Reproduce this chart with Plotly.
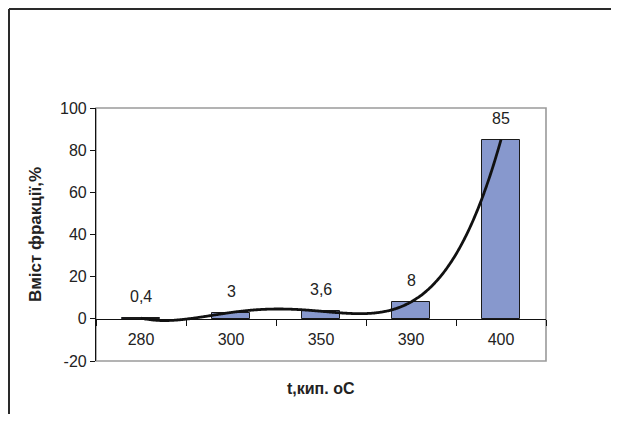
import numpy as np
import plotly.graph_objects as go

# ---- data ----
categories = ["280", "300", "350", "390", "400"]
values = [0.4, 3, 3.6, 8, 85]
value_labels = ["0,4", "3", "3,6", "8", "85"]
y_ticks = [-20, 0, 20, 40, 60, 80, 100]
y_tick_text = ["-20", "0", "20", "40", "60", "80", "100"]

x_pos = list(range(1, len(categories) + 1))

# polynomial (4th order) trendline as in the original spreadsheet chart
coef = np.polyfit(x_pos, values, 4)
xt = np.linspace(x_pos[0], x_pos[-1], 300)
yt = np.polyval(coef, xt)

FONT = "Liberation Sans, Arial, sans-serif"

fig = go.Figure()
fig.add_trace(go.Bar(
    x=x_pos, y=values, width=0.42,
    marker=dict(color="#8798CD", line=dict(color="#1a1a1a", width=1)),
    showlegend=False, hoverinfo="skip",
))
fig.add_trace(go.Scatter(
    x=xt, y=yt, mode="lines",
    line=dict(color="#111111", width=2.8, shape="spline"),
    showlegend=False, hoverinfo="skip",
))

for xp, v, lab in zip(x_pos, values, value_labels):
    fig.add_annotation(x=xp, y=v, text=lab, showarrow=False,
                       yanchor="bottom", yshift=11,
                       font=dict(family=FONT, size=16, color="#222222"))

# page body has an 8px margin: the figure starts at (8, 8) in the window
OFF = 8
W, H = 603, 406
L, T = 96 - OFF, 108 - OFF
R = W - (546 - OFF)
B = H - (361 - OFF)
pw, ph = W - L - R, H - T - B


def px_x(p):
    return (p - OFF - L) / pw


def px_y(p):
    return (H - B - (p - OFF)) / ph


shapes = [
    # plot-area frame (grey)
    dict(type="rect", xref="x domain", yref="y domain", x0=0, x1=1, y0=0, y1=1,
         line=dict(color="#9a9a9a", width=1.6), layer="below"),
    # outer chart frame (left and top visible)
    dict(type="line", xref="paper", yref="paper",
         x0=px_x(9), x1=px_x(9), y0=px_y(9), y1=px_y(440),
         line=dict(color="#2a2a2a", width=2)),
    dict(type="line", xref="paper", yref="paper",
         x0=px_x(9), x1=px_x(640), y0=px_y(9), y1=px_y(9),
         line=dict(color="#2a2a2a", width=2)),
]

fig.update_layout(
    width=W, height=H,
    margin=dict(l=L, r=R, t=T, b=B),
    paper_bgcolor="white", plot_bgcolor="white",
    font=dict(family=FONT, size=16, color="#222222"),
    shapes=shapes,
    bargap=0,
    xaxis=dict(
        range=[0.5, 5.5], tickmode="array", tickvals=x_pos, ticktext=categories,
        anchor="free", position=20 / 120,
        showline=True, linecolor="#111111", linewidth=1,
        ticks="outside", ticklen=6, tickcolor="rgba(0,0,0,0)",
        minor=dict(tickmode="linear", tick0=0.5, dtick=1, ticks="outside",
                   ticklen=6, tickcolor="#111111", tickwidth=1),
        showgrid=False, zeroline=False,
        tickfont=dict(family=FONT, size=16, color="#222222"),
    ),
    yaxis=dict(
        range=[-20, 100], tickmode="array", tickvals=y_ticks, ticktext=y_tick_text,
        showline=True, linecolor="#111111", linewidth=1.2,
        ticks="outside", ticklen=5, tickcolor="#111111",
        showgrid=False, zeroline=False,
        tickfont=dict(family=FONT, size=16, color="#222222"),
        title=dict(text="<b>Вміст фракції,%</b>", standoff=14,
                   font=dict(family=FONT, size=17, color="#222222")),
    ),
)

fig.add_annotation(xref="paper", yref="paper", x=0.5, y=px_y(388),
                   text="<b>t,кип. оС</b>", showarrow=False,
                   xanchor="center", yanchor="middle",
                   font=dict(family=FONT, size=16, color="#222222"))

fig.write_html("out.html")
